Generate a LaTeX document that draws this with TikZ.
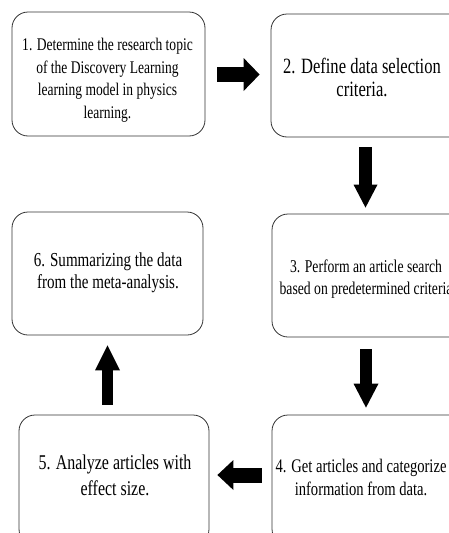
\documentclass[tikz,border=0pt]{standalone}
\usepackage{fontspec}
\setmainfont{Liberation Serif}[FakeStretch=0.76]
\usetikzlibrary{arrows.meta}
\begin{document}
\begin{tikzpicture}[x=1pt,y=-1pt,
  box/.style={draw=black!80, line width=0.8pt, rounded corners=16pt, minimum width=#1},
  txt/.style={align=center, inner sep=0pt, text=black},
  blk/.style={line width=#1, black}
]
\useasboundingbox (0,0) rectangle (449,533);
\clip (0,0) rectangle (449,533);
% boxes
\node[box=193pt, minimum height=124pt] (b1) at (108.5,74) {};
\node[box=200pt, minimum height=123pt] (b2) at (371,75.5) {};
\node[box=200pt, minimum height=123pt] (b3) at (372,275.5) {};
\node[box=200pt, minimum height=130pt] (b4) at (372,480) {};
\node[box=190pt, minimum height=130pt] (b5) at (114,480) {};
\node[box=191pt, minimum height=123pt] (b6) at (107.5,273.5) {};
% texts
\node[txt, font=\fontsize{17.8}{22.5}\selectfont] (t1) at (107.5,80)
  {1. Determine the research topic\\of the Discovery Learning\\learning model in physics\\learning.};
\node[txt, font=\fontsize{21.8}{23}\selectfont] (t2) at (362,77)
  {2. Define data selection\\criteria.};
\node[txt, font=\fontsize{18}{22.5}\selectfont] (t3) at (366,279)
  {3. Perform an article search\\based on predetermined criteria};
\node[txt, font=\fontsize{19.2}{23}\selectfont] (t4) at (361,477)
  {4. Get articles and categorize\\information from data.};
\node[txt, font=\fontsize{21}{26}\selectfont] (t5) at (115,475)
  {5. Analyze articles with\\effect size.};
\node[txt, font=\fontsize{19.8}{22.5}\selectfont] (t6) at (108,273)
  {6. Summarizing the data\\from the meta-analysis.};
% block arrows
\draw[blk=15pt, -{Triangle[length=16pt,width=33pt,line width=0pt]}]
  ([shift={(12,0.5)}]b1.east) -- ([shift={(-11,-1)}]b2.west);
\draw[blk=13pt, -{Triangle[length=23pt,width=24pt,line width=0pt]}]
  ([shift={(-5.5,10)}]b2.south) -- ([shift={(-6.5,-6)}]b3.north);
\draw[blk=12pt, -{Triangle[length=24pt,width=25pt,line width=0pt]}]
  ([shift={(-6,12)}]b3.south) -- ([shift={(-6,-7)}]b4.north);
\draw[blk=15pt, -{Triangle[length=16pt,width=30pt,line width=0pt]}]
  ([shift={(-10,-5)}]b4.west) -- ([shift={(8,-5)}]b5.east);
\draw[blk=11.5pt, -{Triangle[length=25pt,width=25pt,line width=0pt]}]
  ([shift={(-6.5,-10)}]b5.north) -- ([shift={(0,10)}]b6.south);
\end{tikzpicture}
\end{document}
